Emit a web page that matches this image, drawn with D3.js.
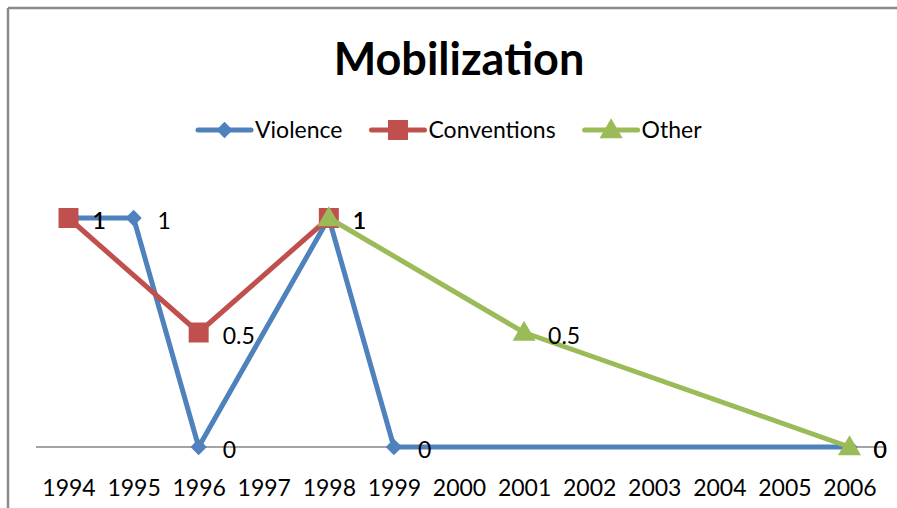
<!DOCTYPE html>
<html><head><meta charset="utf-8">
<script src="https://cdn.jsdelivr.net/npm/d3@7"></script>
<style>html,body{margin:0;padding:0;background:#fff;}svg{display:block;}</style>
</head><body>
<svg id="chart" width="897" height="508"></svg>
<script>
const years = ["1994","1995","1996","1997","1998","1999","2000","2001","2002","2003","2004","2005","2006"];
const violence    = [1, 1, 0, null, 1, 0, null, null, null, null, null, null, 0];
const conventions = [1, null, 0.5, null, 1, null, null, null, null, null, null, null, null];
const other       = [null, null, null, null, 1, null, null, 0.5, null, null, null, null, 0];
const seriesNames = ["Violence", "Conventions", "Other"];
const seriesColors = ["#4F81BD", "#C0504D", "#9BBB59"];
const seriesMarkers = ["diamond", "square", "triangle"];
const title = "Mobilization";

const svg = d3.select("#chart");
const font = "Lato, 'Open Sans', sans-serif";

// frame
svg.append("line").attr("x1",8).attr("x2",897).attr("y1",8).attr("y2",8).attr("stroke","#8a8a8a").attr("stroke-width",2.5);
svg.append("line").attr("x1",8).attr("x2",8).attr("y1",8).attr("y2",508).attr("stroke","#8a8a8a").attr("stroke-width",2.5);

const x = d3.scalePoint().domain(years).range([68.5, 849.5]);
const y = d3.scaleLinear().domain([0, 1]).range([447, 218]);

// axis
const axis = d3.axisBottom(x).tickSize(0).tickPadding(33);
const ag = svg.append("g").attr("transform", `translate(0,${y(0)})`).call(axis);
ag.select(".domain").attr("d", "M36,0H884").attr("stroke", "#868686").attr("stroke-width", 1.5);
ag.selectAll("text").attr("font-family", font).attr("font-size", 23).attr("fill", "#000");

const symbolFor = {
  diamond: d3.symbol().type(d3.symbolDiamond2).size(170),
  square: d3.symbol().type(d3.symbolSquare).size(400),
  triangle: d3.symbol().type(d3.symbolTriangle).size(230)
};

const all = [violence, conventions, other];
const line = d3.line().x(d => x(d.year)).y(d => y(d.value));

const seriesData = all.map((vals, i) => ({
  name: seriesNames[i], color: seriesColors[i], marker: seriesMarkers[i],
  points: years.map((yr, j) => ({year: yr, value: vals[j]})).filter(d => d.value !== null)
}));

seriesData.forEach(s => {
  const g = svg.append("g");
  g.append("path").datum(s.points).attr("d", line).attr("fill","none")
    .attr("stroke", s.color).attr("stroke-width", 5).attr("stroke-linejoin","round");
  g.selectAll("path.m").data(s.points).join("path").attr("class","m")
    .attr("transform", d => `translate(${x(d.year)},${y(d.value) + (s.marker==="triangle"?1.5:0)})`)
    .attr("d", symbolFor[s.marker]).attr("fill", s.color);
});

// data labels
seriesData.forEach(s => {
  svg.append("g").selectAll("text").data(s.points).join("text")
    .attr("x", d => x(d.year) + 24).attr("y", d => y(d.value) + 11)
    .attr("font-family", font).attr("font-size", 23).attr("fill", "#000")
    .text(d => d3.format("")(d.value));
});

// title
svg.append("text").attr("x", 459).attr("y", 75).attr("text-anchor","middle")
  .attr("font-family", font).attr("font-weight", "bold").attr("font-size", 45).attr("fill","#000")
  .text(title);

// legend
const lg = svg.append("g");
let lx = 198;
const ly = 130;
seriesData.forEach(s => {
  lg.append("line").attr("x1", lx).attr("x2", lx + 53).attr("y1", ly).attr("y2", ly)
    .attr("stroke", s.color).attr("stroke-width", 5).attr("stroke-linecap","round");
  lg.append("path").attr("transform", `translate(${lx + 26.5},${ly + (s.marker==="triangle"?1.5:0)})`)
    .attr("d", symbolFor[s.marker]).attr("fill", s.color);
  const t = lg.append("text").attr("x", lx + 57).attr("y", ly + 8)
    .attr("font-family", font).attr("font-size", 23).attr("fill", "#000").text(s.name);
  lx += 57 + t.node().getComputedTextLength() + 29;
});
</script>
</body></html>
